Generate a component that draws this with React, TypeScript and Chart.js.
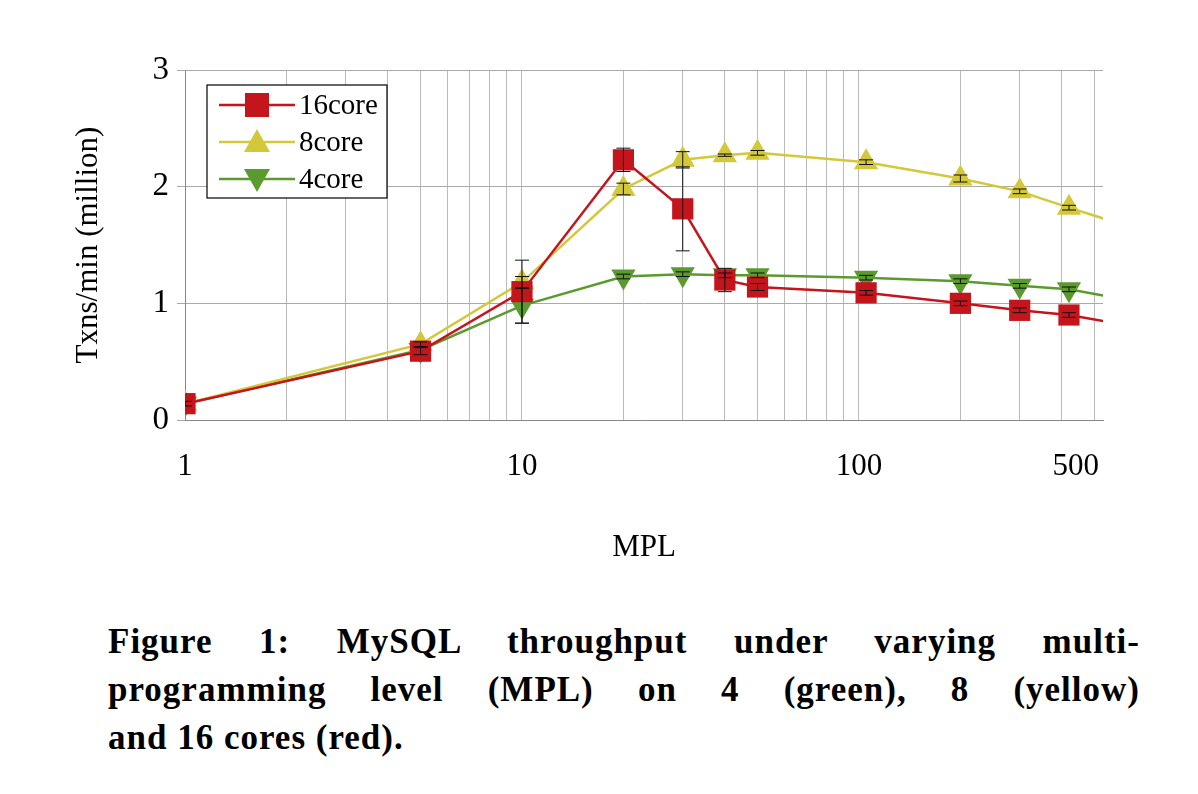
import { Chart, registerables } from "chart.js";
import React, { useEffect, useRef } from "react";

Chart.register(...registerables);

const mpl = [1, 5, 10, 20, 30, 40, 50, 105, 200, 300, 420, 600];
const core16 = [0.14, 0.59, 1.1, 2.23, 1.81, 1.2, 1.14, 1.09, 1.0, 0.94, 0.9, 0.82];
const core8 = [0.14, 0.65, 1.18, 1.98, 2.23, 2.27, 2.29, 2.21, 2.07, 1.96, 1.82, 1.68];
const core4 = [0.14, 0.6, 0.98, 1.23, 1.25, 1.24, 1.24, 1.22, 1.19, 1.15, 1.12, 1.04];
const err16 = [0.02, 0.03, 0.27, 0.1, 0.36, 0.1, 0.03, 0.02, 0.02, 0.02, 0.02, 0];
const err8 = [0, 0.02, 0.05, 0.05, 0.07, 0.01, 0.02, 0.02, 0.03, 0.02, 0.02, 0];
const err4 = [0, 0, 0.15, 0.02, 0.02, 0.02, 0.02, 0.02, 0.02, 0.02, 0.02, 0];
const xLabels: Record<number, string> = { 1: "1", 10: "10", 100: "100", 440: "500" };

const FONT = "'Liberation Serif', 'DejaVu Serif', serif";
const RED = "#c4151c";
const YELLOW = "#d3c83a";
const GREEN = "#5a9a2e";

const errorBars = {
    id: "errorBars",
    afterDatasetsDraw(chart: any) {
        const ctx = chart.ctx;
        const errs = [err16, err8, err4];
        const area = chart.chartArea;
        ctx.save();
        ctx.beginPath();
        ctx.rect(area.left, area.top, area.right - area.left, area.bottom - area.top);
        ctx.clip();
        ctx.strokeStyle = "#111";
        ctx.lineWidth = 1;
        chart.data.datasets.forEach((ds: any, i: number) => {
            ds.data.forEach((p: any, j: number) => {
                const e = errs[i][j];
                if (!e) return;
                const x = chart.scales.x.getPixelForValue(p.x);
                const y1 = chart.scales.y.getPixelForValue(p.y - e);
                const y2 = chart.scales.y.getPixelForValue(p.y + e);
                ctx.beginPath();
                ctx.moveTo(x, y1);
                ctx.lineTo(x, y2);
                ctx.moveTo(x - 7, y1);
                ctx.lineTo(x + 7, y1);
                ctx.moveTo(x - 7, y2);
                ctx.lineTo(x + 7, y2);
                ctx.stroke();
            });
        });
        ctx.restore();
    },
};

const legendBox = {
    id: "legendBox",
    afterDraw(chart: any) {
        const ctx = chart.ctx;
        const x0 = 207, y0 = 85, w = 180, h = 113;
        ctx.save();
        ctx.fillStyle = "#fff";
        ctx.fillRect(x0, y0, w, h);
        ctx.strokeStyle = "#000";
        ctx.lineWidth = 1.2;
        ctx.strokeRect(x0, y0, w, h);
        ctx.font = `29px ${FONT}`;
        ctx.textBaseline = "middle";
        chart.data.datasets.forEach((ds: any, i: number) => {
            const y = y0 + 20 + i * 37;
            ctx.strokeStyle = ds.borderColor;
            ctx.lineWidth = 2.5;
            ctx.beginPath();
            ctx.moveTo(x0 + 12, y);
            ctx.lineTo(x0 + 88, y);
            ctx.stroke();
            ctx.fillStyle = ds.backgroundColor;
            const cx = x0 + 50;
            ctx.beginPath();
            if (i === 0) {
                ctx.rect(cx - 12, y - 12, 24, 24);
            } else if (i === 1) {
                ctx.moveTo(cx, y - 13);
                ctx.lineTo(cx + 13, y + 10);
                ctx.lineTo(cx - 13, y + 10);
            } else {
                ctx.moveTo(cx, y + 13);
                ctx.lineTo(cx + 13, y - 10);
                ctx.lineTo(cx - 13, y - 10);
            }
            ctx.fill();
            ctx.fillStyle = "#000";
            ctx.fillText(ds.label, x0 + 92, y + 1);
        });
        ctx.restore();
    },
};

const App: React.FC = () => {
    const chartRef = useRef<HTMLCanvasElement | null>(null);

    useEffect(() => {
        document.body.style.margin = "0";
        if (!chartRef.current) return;
        const ctx = chartRef.current.getContext("2d");
        if (!ctx) return;
        const pts = (d: number[]) => mpl.map((x, i) => ({ x, y: d[i] }));
        const chart = new Chart(ctx, {
            type: "line",
            data: {
                datasets: [
                    { label: "16core", data: pts(core16), borderColor: RED, backgroundColor: RED, pointStyle: "rect", pointRadius: 15, pointBorderWidth: 0, borderWidth: 2.5 },
                    { label: "8core", data: pts(core8), borderColor: YELLOW, backgroundColor: YELLOW, pointStyle: "triangle", pointRadius: 14, pointBorderWidth: 0, borderWidth: 2.5 },
                    { label: "4core", data: pts(core4), borderColor: GREEN, backgroundColor: GREEN, pointStyle: "triangle", rotation: 180, pointRadius: 14, pointBorderWidth: 0, borderWidth: 2.5 },
                ] as any,
            },
            options: {
                animation: false,
                responsive: false,
                layout: { padding: { top: 70, right: 95, left: 0, bottom: 0 } },
                plugins: { legend: { display: false }, tooltip: { enabled: false } },
                scales: {
                    x: {
                        type: "logarithmic",
                        min: 1,
                        max: 530,
                        afterBuildTicks: (axis: any) => {
                            const t: any[] = [];
                            for (let d = 1; d <= 100; d *= 10)
                                for (let k = 1; k <= 9; k++) if (d * k <= 530) t.push({ value: d * k });
                            t.push({ value: 440 });
                            axis.ticks = t;
                        },
                        afterFit: (axis: any) => { axis.height = 150; },
                        grid: { color: (c: any) => (c.tick && c.tick.value === 440 ? "rgba(0,0,0,0)" : "#bbb"), lineWidth: 1, drawTicks: false },
                        border: { color: "#888" },
                        ticks: {
                            autoSkip: false,
                            maxRotation: 0,
                            padding: 28,
                            color: "#000",
                            font: { family: FONT, size: 31 },
                            callback: (v: any) => xLabels[Number(v)] ?? "",
                        },
                        title: { display: true, text: "MPL", color: "#000", font: { family: FONT, size: 31 }, padding: { top: 4 } },
                    },
                    y: {
                        min: 0,
                        max: 3,
                        afterFit: (axis: any) => { axis.width = 185; },
                        grid: { color: "#aaa", lineWidth: 1, tickLength: 8 },
                        border: { color: "#888" },
                        ticks: { stepSize: 1, padding: 8, color: "#000", font: { family: FONT, size: 33 } },
                        title: { display: true, text: "Txns/min (million)", color: "#000", font: { family: FONT, size: 31 }, padding: { top: 70, bottom: 4 } },
                    },
                },
            },
            plugins: [errorBars, legendBox],
        });
        return () => chart.destroy();
    }, []);

    const lineStyle: React.CSSProperties = { textAlign: "justify", textAlignLast: "justify" };

    return (
        <div style={{ width: 1198, height: 794, background: "#fff", position: "relative" }}>
            <canvas ref={chartRef} width={1198} height={570} style={{ display: "block" }}></canvas>
            <div
                style={{
                    position: "absolute",
                    left: 108,
                    top: 618,
                    width: 1032,
                    fontFamily: FONT,
                    fontWeight: "bold",
                    fontSize: 35,
                    lineHeight: "48px",
                    letterSpacing: "1px",
                    color: "#000",
                }}
            >
                <div style={lineStyle}>Figure 1: MySQL throughput under varying multi-</div>
                <div style={lineStyle}>programming level (MPL) on 4 (green), 8 (yellow)</div>
                <div>and 16 cores (red).</div>
            </div>
        </div>
    );
};

export default App;
